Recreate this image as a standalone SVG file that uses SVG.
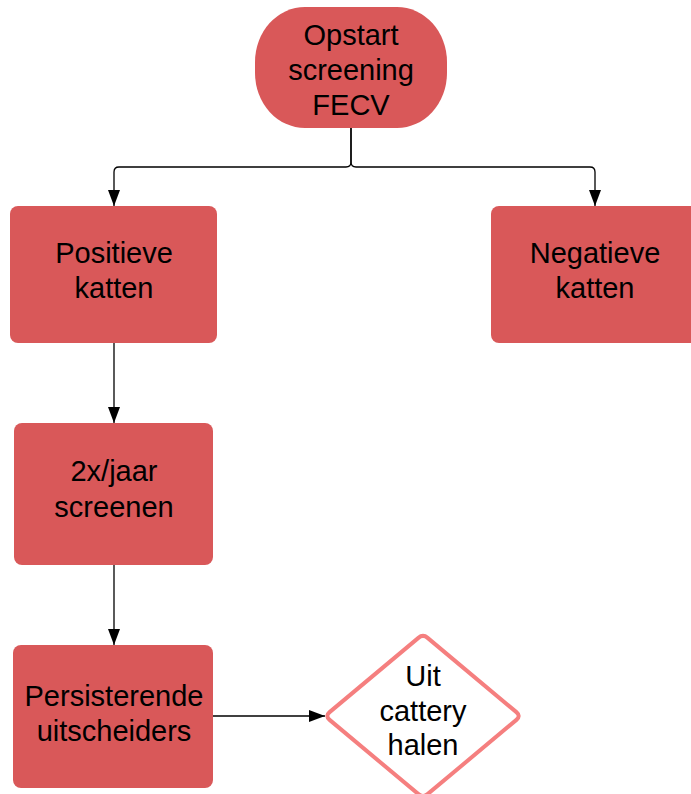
<svg xmlns="http://www.w3.org/2000/svg" width="691" height="794" viewBox="0 0 691 794">
<defs>
<style>
.node{fill:#d95859;}
.t{font-family:"Liberation Sans",Arial,sans-serif;font-size:29px;fill:#000;text-anchor:middle;}
.c{fill:none;stroke:#000;stroke-width:1.3;}
.d{fill:#fff;stroke:#f57f7f;stroke-width:4;stroke-linejoin:round;}
</style>
<marker id="ah" markerWidth="16" markerHeight="12" refX="16" refY="6" orient="auto" markerUnits="userSpaceOnUse">
<path d="M0,0 L16,6 L0,12 Z" fill="#000"/>
</marker>
</defs>
<rect width="691" height="794" fill="#fff"/>
<g id="connectors">
<path class="c" d="M351,128 V162 Q351,167 346,167 H119 Q114,167 114,172 V206" marker-end="url(#ah)"/>
<path class="c" d="M351,128 V162 Q351,167 356,167 H590 Q595,167 595,172 V206" marker-end="url(#ah)"/>
<path class="c" d="M114,343 V423" marker-end="url(#ah)"/>
<path class="c" d="M114,565 V645" marker-end="url(#ah)"/>
<path class="c" d="M213,716 H325" marker-end="url(#ah)"/>
</g>
<g id="start">
<rect class="node" x="255" y="7" width="192" height="121" rx="50" ry="55"/>
<text class="t" x="351" y="45">Opstart</text>
<text class="t" x="351" y="80">screening</text>
<text class="t" x="351" y="115">FECV</text>
</g>
<g id="positief">
<rect class="node" x="10" y="206" width="207" height="137" rx="8"/>
<text class="t" x="114" y="263">Positieve</text>
<text class="t" x="114" y="298">katten</text>
</g>
<g id="negatief">
<rect class="node" x="491" y="206" width="208" height="137" rx="8"/>
<text class="t" x="595" y="263">Negatieve</text>
<text class="t" x="595" y="298">katten</text>
</g>
<g id="screenen">
<rect class="node" x="14" y="423" width="199" height="142" rx="8"/>
<text class="t" x="114" y="481">2x/jaar</text>
<text class="t" x="114" y="517">screenen</text>
</g>
<g id="persisterend">
<rect class="node" x="13" y="645" width="200" height="143" rx="8"/>
<text class="t" x="114" y="706">Persisterende</text>
<text class="t" x="114" y="741">uitscheiders</text>
</g>
<g id="uit">
<path class="d" d="M418.4,637.85 Q423,634 427.6,637.85 L516.4,712.15 Q521,716 516.4,719.85 L427.6,794.15 Q423,798 418.4,794.15 L329.6,719.85 Q325,716 329.6,712.15 Z"/>
<text class="t" x="423" y="686">Uit</text>
<text class="t" x="423" y="721">cattery</text>
<text class="t" x="423" y="755">halen</text>
</g>
</svg>
